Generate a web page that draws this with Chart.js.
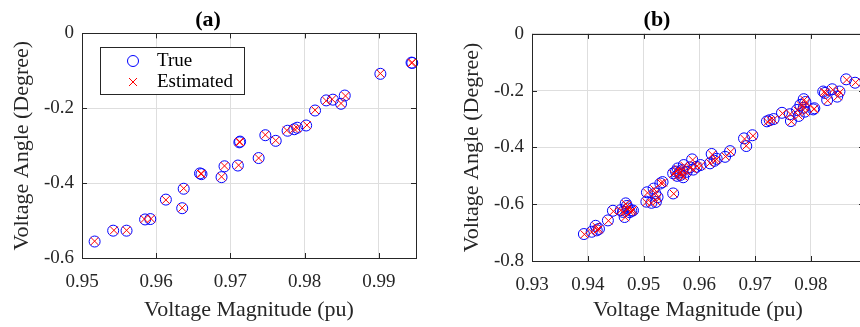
<!DOCTYPE html>
<html>
<head>
<meta charset="utf-8">
<script src="https://cdn.jsdelivr.net/npm/chart.js@4"></script>
<style>
  html, body { margin: 0; padding: 0; background: #fff; }
  body { width: 860px; height: 327px; overflow: hidden; position: relative; }
  canvas { position: absolute; top: 0; }
  #chartA { left: 0; }
  #chartB { left: 450px; }
</style>
</head>
<body>
<canvas id="chartA" width="430" height="327"></canvas>
<canvas id="chartB" width="430" height="327"></canvas>
<script>
// panel (a)
const trueMagA = [0.9517, 0.9542, 0.9560, 0.9585, 0.9592, 0.9613, 0.9635, 0.9637, 0.9659, 0.9661,
  0.9688, 0.9692, 0.9710, 0.9712, 0.9713, 0.9738, 0.9747, 0.9761, 0.9777, 0.9786,
  0.9790, 0.9802, 0.9814, 0.9829, 0.9838, 0.9849, 0.9854, 0.9902, 0.9944, 0.9945];
const trueAngA = [-0.556, -0.527, -0.527, -0.497, -0.496, -0.444, -0.467, -0.415, -0.374, -0.376,
  -0.384, -0.355, -0.353, -0.291, -0.289, -0.333, -0.272, -0.287, -0.260, -0.256,
  -0.252, -0.246, -0.206, -0.179, -0.177, -0.188, -0.166, -0.108, -0.078, -0.079];
const estMagA = [0.9517, 0.9543, 0.9560, 0.9584, 0.9593, 0.9613, 0.9635, 0.9637, 0.9660, 0.9661,
  0.9688, 0.9692, 0.9711, 0.9712, 0.9713, 0.9738, 0.9747, 0.9761, 0.9776, 0.9786,
  0.9790, 0.9803, 0.9814, 0.9829, 0.9837, 0.9849, 0.9855, 0.9902, 0.9944, 0.9945];
const estAngA = [-0.555, -0.526, -0.526, -0.496, -0.495, -0.445, -0.466, -0.414, -0.375, -0.375,
  -0.383, -0.354, -0.352, -0.290, -0.290, -0.333, -0.271, -0.286, -0.259, -0.255,
  -0.253, -0.245, -0.205, -0.180, -0.176, -0.187, -0.167, -0.107, -0.079, -0.078];

// panel (b)
const trueMagB = [0.9393, 0.9407, 0.9414, 0.9416, 0.9420, 0.9436, 0.9445, 0.9459, 0.9463, 0.9466,
  0.9468, 0.9470, 0.9472, 0.9475, 0.9478, 0.9481, 0.9505, 0.9506, 0.9514, 0.9518,
  0.9521, 0.9522, 0.9525, 0.9530, 0.9534, 0.9553, 0.9553, 0.9558, 0.9560, 0.9561,
  0.9565, 0.9566, 0.9569, 0.9571, 0.9572, 0.9577, 0.9583, 0.9587, 0.9589, 0.9595,
  0.9602, 0.9619, 0.9622, 0.9627, 0.9631, 0.9646, 0.9655, 0.9680, 0.9684, 0.9695,
  0.9721, 0.9726, 0.9733, 0.9748, 0.9762, 0.9764, 0.9775, 0.9778, 0.9781, 0.9787,
  0.9787, 0.9789, 0.9790, 0.9804, 0.9806, 0.9822, 0.9825, 0.9829, 0.9838, 0.9847,
  0.9851, 0.9863, 0.9879];
const trueAngB = [-0.705, -0.697, -0.676, -0.692, -0.687, -0.657, -0.623, -0.621, -0.627, -0.645,
  -0.597, -0.606, -0.615, -0.628, -0.623, -0.622, -0.591, -0.558, -0.595, -0.545,
  -0.562, -0.592, -0.575, -0.527, -0.522, -0.562, -0.491, -0.485, -0.500, -0.474,
  -0.488, -0.497, -0.480, -0.505, -0.462, -0.486, -0.470, -0.442, -0.478, -0.468,
  -0.462, -0.456, -0.423, -0.447, -0.440, -0.433, -0.413, -0.368, -0.395, -0.357,
  -0.308, -0.304, -0.300, -0.278, -0.283, -0.307, -0.268, -0.289, -0.250, -0.230,
  -0.260, -0.274, -0.240, -0.266, -0.262, -0.203, -0.208, -0.233, -0.195, -0.221,
  -0.203, -0.160, -0.172];
const estMagB = [0.9394, 0.9407, 0.9415, 0.9417, 0.9420, 0.9437, 0.9446, 0.9459, 0.9464, 0.9467,
  0.9468, 0.9471, 0.9472, 0.9476, 0.9479, 0.9481, 0.9505, 0.9507, 0.9514, 0.9519,
  0.9521, 0.9523, 0.9525, 0.9531, 0.9535, 0.9554, 0.9553, 0.9559, 0.9560, 0.9562,
  0.9565, 0.9567, 0.9569, 0.9572, 0.9573, 0.9577, 0.9584, 0.9588, 0.9589, 0.9596,
  0.9603, 0.9619, 0.9623, 0.9628, 0.9631, 0.9647, 0.9656, 0.9681, 0.9684, 0.9696,
  0.9722, 0.9727, 0.9733, 0.9749, 0.9763, 0.9765, 0.9776, 0.9778, 0.9782, 0.9788,
  0.9788, 0.9790, 0.9791, 0.9805, 0.9806, 0.9823, 0.9826, 0.9830, 0.9839, 0.9848,
  0.9852, 0.9864, 0.9880];
const estAngB = [-0.706, -0.698, -0.678, -0.690, -0.688, -0.658, -0.625, -0.622, -0.628, -0.646,
  -0.599, -0.605, -0.617, -0.627, -0.624, -0.620, -0.593, -0.560, -0.596, -0.547,
  -0.561, -0.590, -0.577, -0.525, -0.524, -0.563, -0.493, -0.484, -0.502, -0.476,
  -0.487, -0.499, -0.481, -0.503, -0.464, -0.485, -0.472, -0.444, -0.477, -0.466,
  -0.464, -0.455, -0.425, -0.446, -0.442, -0.432, -0.415, -0.370, -0.394, -0.359,
  -0.310, -0.303, -0.302, -0.280, -0.282, -0.309, -0.270, -0.288, -0.252, -0.232,
  -0.258, -0.276, -0.242, -0.265, -0.264, -0.205, -0.207, -0.235, -0.197, -0.220,
  -0.205, -0.162, -0.171];

const xTicksA = [0.95, 0.96, 0.97, 0.98, 0.99];
const xTickLabelsA = ['0.95', '0.96', '0.97', '0.98', '0.99'];
const yTicksA = [-0.6, -0.4, -0.2, 0];
const yTickLabelsA = ['-0.6', '-0.4', '-0.2', '0'];
const xTicksB = [0.93, 0.94, 0.95, 0.96, 0.97, 0.98];
const xTickLabelsB = ['0.93', '0.94', '0.95', '0.96', '0.97', '0.98'];
const yTicksB = [-0.8, -0.6, -0.4, -0.2, 0];
const yTickLabelsB = ['-0.8', '-0.6', '-0.4', '-0.2', '0'];

const FONT = 'Liberation Serif';
const INK = '#262626';

const toPoints = (xs, ys) => xs.map((v, i) => ({ x: v, y: ys[i] }));

// box + inward tick marks on all four sides
const framePlugin = {
  id: 'frame',
  afterDatasetsDraw(chart) {
    const { ctx, chartArea: a, scales: { x, y } } = chart;
    const len = 5;
    ctx.save();
    ctx.strokeStyle = INK;
    ctx.lineWidth = 1;
    ctx.beginPath();
    x.ticks.forEach(t => {
      const px = Math.round(x.getPixelForValue(t.value)) + 0.5;
      ctx.moveTo(px, a.bottom); ctx.lineTo(px, a.bottom - len);
      ctx.moveTo(px, a.top); ctx.lineTo(px, a.top + len);
    });
    y.ticks.forEach(t => {
      const py = Math.round(y.getPixelForValue(t.value)) + 0.5;
      ctx.moveTo(a.left, py); ctx.lineTo(a.left + len, py);
      ctx.moveTo(a.right, py); ctx.lineTo(a.right - len, py);
    });
    ctx.stroke();
    ctx.strokeRect(Math.round(a.left) + 0.5, Math.round(a.top) + 0.5,
      Math.round(a.right) - Math.round(a.left), Math.round(a.bottom) - Math.round(a.top));
    ctx.restore();
  }
};

// MATLAB style legend box, only on panel (a)
const legendBox = {
  id: 'legendBox',
  afterDraw(chart, args, opts) {
    if (!opts.show) return;
    const ctx = chart.ctx;
    ctx.save();
    ctx.fillStyle = '#fff';
    ctx.fillRect(100, 47, 144, 47);
    ctx.strokeStyle = INK;
    ctx.lineWidth = 1;
    ctx.strokeRect(100.5, 47.5, 144, 47);
    ctx.strokeStyle = '#0000ff';
    ctx.beginPath();
    ctx.arc(133, 61, 5.5, 0, Math.PI * 2);
    ctx.stroke();
    ctx.strokeStyle = '#ff0000';
    ctx.beginPath();
    ctx.moveTo(129, 78); ctx.lineTo(137, 86);
    ctx.moveTo(137, 78); ctx.lineTo(129, 86);
    ctx.stroke();
    ctx.fillStyle = '#000';
    ctx.font = '19px "' + FONT + '"';
    ctx.textBaseline = 'middle';
    ctx.fillText('True', 157, 61);
    ctx.fillText('Estimated', 157, 82);
    ctx.restore();
  }
};

function makeChart(id, cfg) {
  const yAxisWidth = cfg.yAxisWidth;
  const xAxisHeight = cfg.xAxisHeight;
  return new Chart(document.getElementById(id), {
    type: 'scatter',
    data: {
      datasets: [
        {
          label: 'True',
          data: toPoints(cfg.trueMag, cfg.trueAng),
          pointStyle: 'circle',
          pointRadius: 5.5,
          pointBorderWidth: 1,
          borderColor: '#0000ff',
          backgroundColor: 'rgba(0,0,0,0)',
          order: 2,
          clip: false
        },
        {
          label: 'Estimated',
          data: toPoints(cfg.estMag, cfg.estAng),
          pointStyle: 'crossRot',
          pointRadius: 5.5,
          pointBorderWidth: 1,
          borderColor: '#ff0000',
          backgroundColor: '#ff0000',
          order: 1,
          clip: false
        }
      ]
    },
    options: {
      responsive: false,
      animation: false,
      events: [],
      layout: { padding: { left: 0, right: cfg.padRight, top: 0, bottom: 0 } },
      plugins: {
        legend: { display: false },
        tooltip: { enabled: false },
        title: {
          display: true,
          text: cfg.title,
          color: '#000',
          font: { family: FONT, size: 22, weight: 'bold' },
          padding: { top: 7, bottom: cfg.titleGap }
        },
        legendBox: { show: cfg.legend }
      },
      scales: {
        x: {
          type: 'linear',
          min: cfg.xMin,
          max: cfg.xMax,
          afterBuildTicks: s => { s.ticks = cfg.xTicks.map(v => ({ value: v })); },
          afterFit: s => { s.height = xAxisHeight; },
          ticks: {
            autoSkip: false,
            maxRotation: 0,
            padding: 13,
            color: INK,
            font: { family: FONT, size: 19 },
            callback: (v, i) => cfg.xLabels[i]
          },
          grid: { color: '#dedede', lineWidth: 1, drawTicks: false },
          border: { display: false },
          title: {
            display: true,
            text: 'Voltage Magnitude (pu)',
            color: INK,
            font: { family: FONT, size: 22 },
            padding: { top: 0, bottom: 4 }
          }
        },
        y: {
          type: 'linear',
          min: cfg.yMin,
          max: 0,
          afterBuildTicks: s => { s.ticks = cfg.yTicks.map(v => ({ value: v })); },
          afterFit: s => { s.width = yAxisWidth; },
          ticks: {
            autoSkip: false,
            padding: 8,
            color: INK,
            font: { family: FONT, size: 19 },
            callback: (v, i) => cfg.yLabels[i]
          },
          grid: { color: '#dedede', lineWidth: 1, drawTicks: false },
          border: { display: false },
          title: {
            display: true,
            text: 'Voltage Angle (Degree)',
            color: INK,
            font: { family: FONT, size: 22 },
            padding: { top: 9, bottom: 0 }
          }
        }
      }
    },
    plugins: [framePlugin, legendBox]
  });
}

makeChart('chartA', {
  title: '(a)', legend: true,
  trueMag: trueMagA, trueAng: trueAngA, estMag: estMagA, estAng: estAngA,
  xMin: 0.95, xMax: 0.995, yMin: -0.6,
  xTicks: xTicksA, xLabels: xTickLabelsA, yTicks: yTicksA, yLabels: yTickLabelsA,
  yAxisWidth: 82, xAxisHeight: 69, padRight: 14, titleGap: 0
});

makeChart('chartB', {
  title: '(b)', legend: false,
  trueMag: trueMagB, trueAng: trueAngB, estMag: estMagB, estAng: estAngB,
  xMin: 0.93, xMax: 0.9895, yMin: -0.8,
  xTicks: xTicksB, xLabels: xTickLabelsB, yTicks: yTicksB, yLabels: yTickLabelsB,
  yAxisWidth: 82, xAxisHeight: 66, padRight: 16, titleGap: 0.5
});
</script>
</body>
</html>
